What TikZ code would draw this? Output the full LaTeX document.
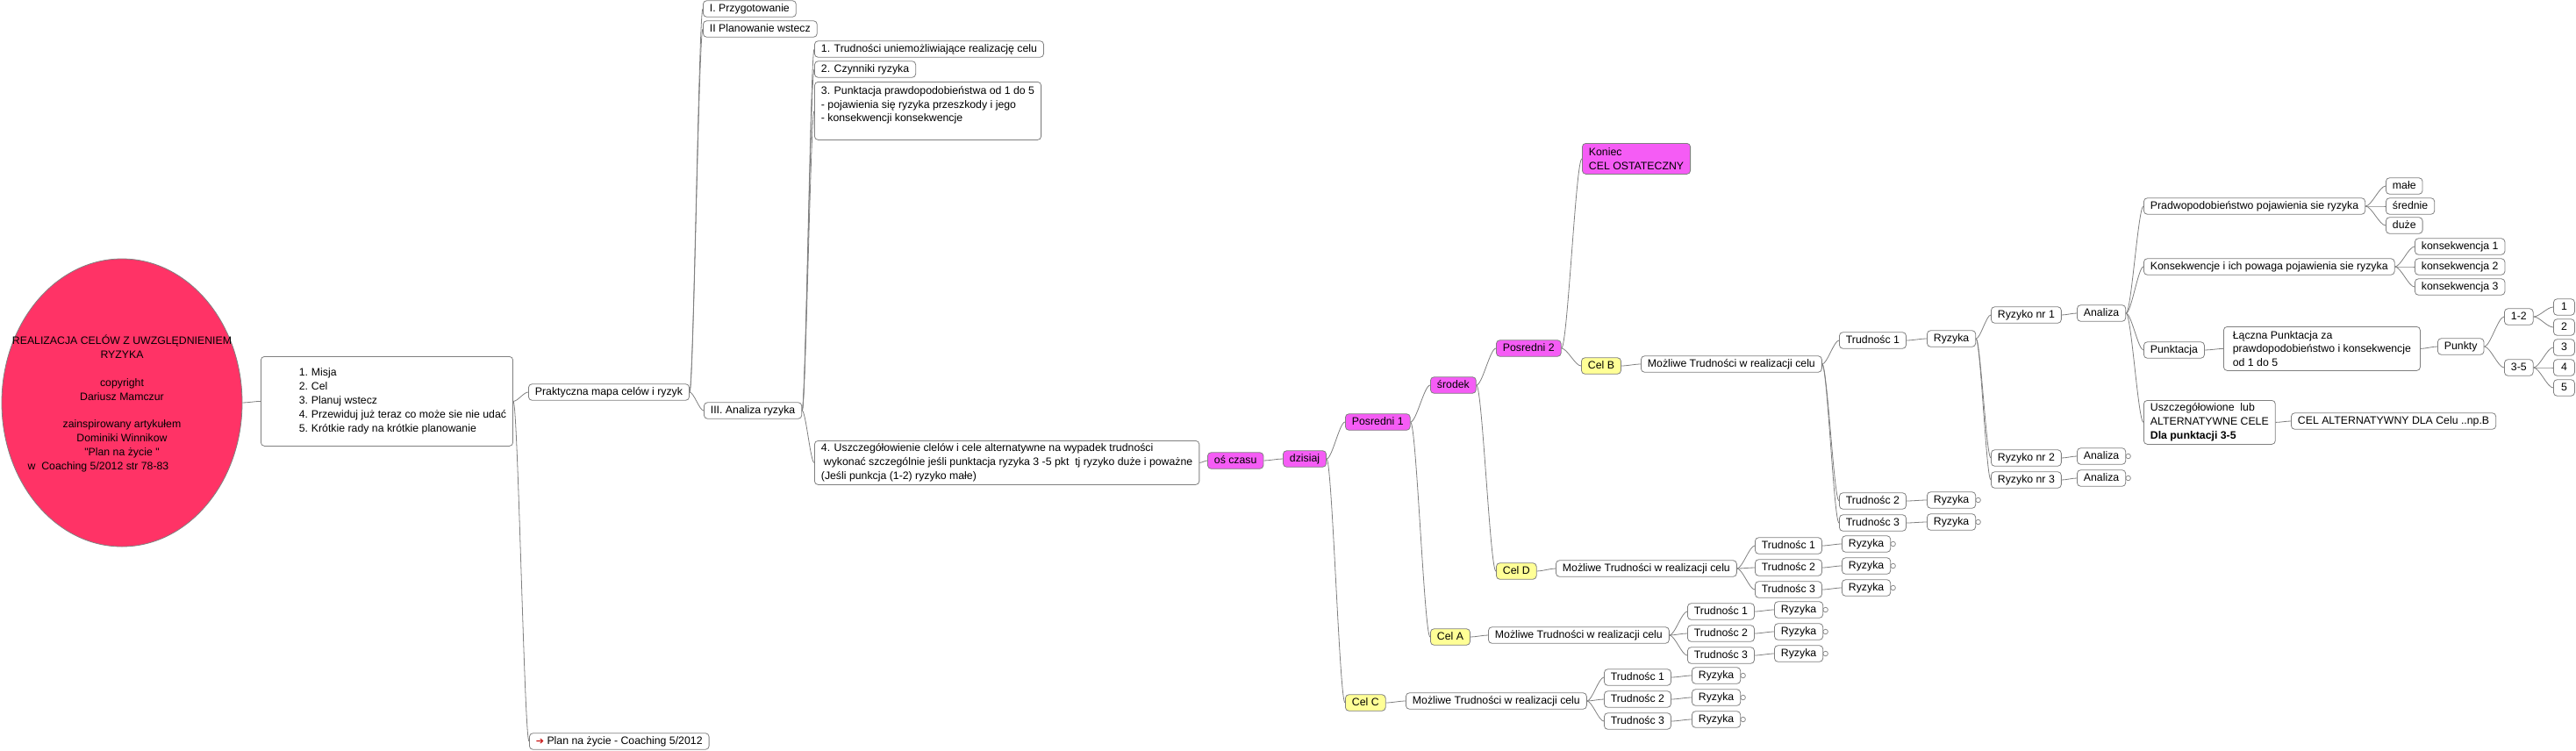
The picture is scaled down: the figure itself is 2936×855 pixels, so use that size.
\documentclass[tikz,border=0pt]{standalone}
\usepackage{fontspec}
\setmainfont{Liberation Sans}
\newfontfamily\arrowfont{DejaVu Sans}
\usetikzlibrary{calc,shapes.geometric}

\definecolor{linegray}{RGB}{128,128,128}
\definecolor{pinkfill}{RGB}{245,92,245}
\definecolor{goalfill}{RGB}{255,255,150}
\definecolor{titlered}{RGB}{255,51,102}
\definecolor{arrowred}{RGB}{200,20,20}

\begin{document}
\begin{tikzpicture}[
       x=1pt, y=-1pt,
       font=\fontsize{12.3}{15.8}\selectfont,
       bubble/.style={
         draw=linegray,
         line width=0.8pt,
         rounded corners=4pt,
         fill=white,
         inner xsep=7.5pt,
         inner ysep=3.5pt,
         text height=9pt,
         text depth=2.5pt,
         anchor=west
       },
       blok/.style={
         draw=linegray,
         line width=0.8pt,
         rounded corners=4pt,
         fill=white,
         inner xsep=7.5pt,
         inner ysep=0pt,
         align=left,
         anchor=north west
       },
       krok/.style={bubble, fill=pinkfill},
       cel/.style={bubble, fill=goalfill},
       fold/.style={
         circle,
         draw=linegray,
         line width=0.7pt,
         fill=white,
         inner sep=0pt,
         minimum size=5.5pt
       },
       link/.style={
         draw=linegray,
         line width=0.8pt,
         to path={let \p1=(\tikztostart), \p2=(\tikztotarget),
           \n1={0.3*(\x2-\x1)} in
           .. controls (\x1+\n1,\y1) and (\x2-\n1,\y2) .. (\p2)}
       }
     ]

       \path [fill=white, use as bounding box] (0,0) rectangle (2936,855);

       % korzen
       \node (tytul) at (139,459) [shape=ellipse, draw=linegray, line width=0.8pt, fill=titlered,
         minimum width=274, minimum height=328, inner sep=0pt]{};
       \node (tytultekst) at (139,460) [align=center]
         {REALIZACJA CELÓW Z UWZGLĘDNIENIEM\\
          RYZYKA\hspace*{20pt}\\[15.8pt]
          copyright\hspace*{40pt}\\
          Dariusz Mamczur\hspace*{44pt}\\[15.8pt]
          zainspirowany artykułem\hspace*{40pt}\\
          Dominiki Winnikow\hspace*{56pt}\\
          \textquotedbl Plan na życie \textquotedbl\hspace*{68pt}\\
          w\ \ Coaching 5/2012 str 78-83\hspace*{54pt}};

       \node (lista) at (297,406) [blok, minimum width=285, minimum height=102]
         {\hspace*{36pt}\makebox[14pt][l]{1.}Misja\\
          \hspace*{36pt}\makebox[14pt][l]{2.}Cel\\
          \hspace*{36pt}\makebox[14pt][l]{3.}Planuj wstecz\\
          \hspace*{36pt}\makebox[14pt][l]{4.}Przewiduj już teraz co może sie nie udać\\
          \hspace*{36pt}\makebox[14pt][l]{5.}Krótkie rady na krótkie planowanie};

       \node (prakt) at (602,447) [bubble]{Praktyczna mapa celów i ryzyk};
       \node (plan) at (603,845) [bubble]{{\arrowfont\fontsize{11}{11}\selectfont\color{arrowred}➔}\ Plan na życie - Coaching 5/2012};

       \node (przyg) at (801,10) [bubble]{I. Przygotowanie};
       \node (planw) at (801,33) [bubble]{II Planowanie wstecz};
       \node (analiza) at (802,468) [bubble]{III. Analiza ryzyka};

       \node (trud) at (928,56) [bubble]{1. Trudności uniemożliwiające realizację celu};
       \node (czyn) at (928,79) [bubble]{2. Czynniki ryzyka};
       \node (punkt) at (928,93) [blok, minimum width=258, minimum height=66]
         {3. Punktacja prawdopodobieństwa od 1 do 5\\
          - pojawienia się ryzyka przeszkody i jego\\
          - konsekwencji konsekwencje\\
          \mbox{}};
       \node (uszcz) at (928,502) [blok, minimum width=427, minimum height=50]
         {4. Uszczegółowienie clelów i cele alternatywne na wypadek trudności\\
          \hspace*{3pt}wykonać szczególnie jeśli punktacja ryzyka 3 -5 pkt\ \ tj ryzyko duże i poważne\\
          (Jeśli punkcja (1-2) ryzyko małe)};

       % os czasu
       \node (os) at (1376,525) [krok]{oś czasu};
       \node (dzis) at (1462,523) [krok]{dzisiaj};
       \node (pos1) at (1533,481) [krok]{Posredni 1};
       \node (srod) at (1630,439) [krok]{środek};
       \node (pos2) at (1705,397) [krok]{Posredni 2};
       \node (koniec) at (1803,163) [blok, fill=pinkfill, minimum width=120, minimum height=35]
         {Koniec\\CEL OSTATECZNY};

       \node (celB) at (1802,417) [cel]{Cel B};
       \node (celD) at (1705,651) [cel]{Cel D};
       \node (celA) at (1630,726) [cel]{Cel A};
       \node (celC) at (1533,801) [cel]{Cel C};

       \node (mozB) at (1870,415) [bubble]{Możliwe Trudności w realizacji celu};
       \node (mozD) at (1773,648) [bubble]{Możliwe Trudności w realizacji celu};
       \node (mozA) at (1696,724) [bubble]{Możliwe Trudności w realizacji celu};
       \node (mozC) at (1602,799) [bubble]{Możliwe Trudności w realizacji celu};

       \node (trB1) at (2096,388) [bubble]{Trudnośc 1};
       \node (trB2) at (2096,571) [bubble]{Trudnośc 2};
       \node (trB3) at (2096,596) [bubble]{Trudnośc 3};
       \node (rzB1) at (2196,386) [bubble]{Ryzyka};
       \node (rzB2) at (2196,570) [bubble]{Ryzyka};
       \node (rzB3) at (2196,595) [bubble]{Ryzyka};

       \node (trD1) at (2000,622) [bubble]{Trudnośc 1};
       \node (trD2) at (2000,647) [bubble]{Trudnośc 2};
       \node (trD3) at (2000,672) [bubble]{Trudnośc 3};
       \node (rzD1) at (2099,620) [bubble]{Ryzyka};
       \node (rzD2) at (2099,645) [bubble]{Ryzyka};
       \node (rzD3) at (2099,670) [bubble]{Ryzyka};

       \node (trA1) at (1923,697) [bubble]{Trudnośc 1};
       \node (trA2) at (1923,722) [bubble]{Trudnośc 2};
       \node (trA3) at (1923,747) [bubble]{Trudnośc 3};
       \node (rzA1) at (2022,695) [bubble]{Ryzyka};
       \node (rzA2) at (2022,720) [bubble]{Ryzyka};
       \node (rzA3) at (2022,745) [bubble]{Ryzyka};

       \node (trC1) at (1828,772) [bubble]{Trudnośc 1};
       \node (trC2) at (1828,797) [bubble]{Trudnośc 2};
       \node (trC3) at (1828,822) [bubble]{Trudnośc 3};
       \node (rzC1) at (1928,770) [bubble]{Ryzyka};
       \node (rzC2) at (1928,795) [bubble]{Ryzyka};
       \node (rzC3) at (1928,820) [bubble]{Ryzyka};

       % ryzyko nr 1
       \node (ry1) at (2269,359) [bubble]{Ryzyko nr 1};
       \node (ry2) at (2269,522) [bubble]{Ryzyko nr 2};
       \node (ry3) at (2269,547) [bubble]{Ryzyko nr 3};
       \node (an1) at (2367,357) [bubble]{Analiza};
       \node (an2) at (2367,520) [bubble]{Analiza};
       \node (an3) at (2367,545) [bubble]{Analiza};

       \node (prawd) at (2443,235) [bubble]{Pradwopodobieństwo pojawienia sie ryzyka};
       \node (male) at (2719,212) [bubble]{małe};
       \node (sred) at (2719,235) [bubble]{średnie};
       \node (duze) at (2719,257) [bubble]{duże};

       \node (kons) at (2443,304) [bubble]{Konsekwencje i ich powaga pojawienia sie ryzyka};
       \node (k1) at (2752,281) [bubble]{konsekwencja 1};
       \node (k2) at (2752,304) [bubble]{konsekwencja 2};
       \node (k3) at (2752,327) [bubble]{konsekwencja 3};

       \node (pkt) at (2443,399) [bubble]{Punktacja};
       \node (lacz) at (2534,372) [blok, minimum width=224, minimum height=50]
         {Łączna Punktacja za\\prawdopodobieństwo i konsekwencje\\od 1 do 5};
       \node (punkty) at (2778,395) [bubble]{Punkty};
       \node (p12) at (2854,361) [bubble]{1-2};
       \node (p35) at (2854,419) [bubble]{3-5};
       \node (n1) at (2910,350) [bubble, inner xsep=0pt, minimum width=24]{1};
       \node (n2) at (2910,373) [bubble, inner xsep=0pt, minimum width=24]{2};
       \node (n3) at (2910,396) [bubble, inner xsep=0pt, minimum width=24]{3};
       \node (n4) at (2910,419) [bubble, inner xsep=0pt, minimum width=24]{4};
       \node (n5) at (2910,442) [bubble, inner xsep=0pt, minimum width=24]{5};

       \node (alt) at (2443,456) [blok, minimum width=147, minimum height=50]
         {Uszczegółowione\ \ lub\\ALTERNATYWNE CELE\\\textbf{Dla punktacji 3-5}};
       \node (celalt) at (2611,480) [bubble]{CEL ALTERNATYWNY DLA Celu ..np.B};

       % zwiniete galezie
       \node (fzB2) at ([xshift=2.5pt]rzB2.east) [fold]{};
       \node (fzB3) at ([xshift=2.5pt]rzB3.east) [fold]{};
       \node (fzD1) at ([xshift=2.5pt]rzD1.east) [fold]{};
       \node (fzD2) at ([xshift=2.5pt]rzD2.east) [fold]{};
       \node (fzD3) at ([xshift=2.5pt]rzD3.east) [fold]{};
       \node (fzA1) at ([xshift=2.5pt]rzA1.east) [fold]{};
       \node (fzA2) at ([xshift=2.5pt]rzA2.east) [fold]{};
       \node (fzA3) at ([xshift=2.5pt]rzA3.east) [fold]{};
       \node (fzC1) at ([xshift=2.5pt]rzC1.east) [fold]{};
       \node (fzC2) at ([xshift=2.5pt]rzC2.east) [fold]{};
       \node (fzC3) at ([xshift=2.5pt]rzC3.east) [fold]{};
       \node (fan2) at ([xshift=2.5pt]an2.east) [fold]{};
       \node (fan3) at ([xshift=2.5pt]an3.east) [fold]{};

       % polaczenia
       \draw [link] (tytul.east) to (lista.west);
       \draw [link] (lista.east) to (prakt.west);
       \draw [link] (lista.east) to (plan.west);

       \draw [link] (prakt.east) to (przyg.west);
       \draw [link] (prakt.east) to (planw.west);
       \draw [link] (prakt.east) to (analiza.west);

       \draw [link] (analiza.east) to (trud.west);
       \draw [link] (analiza.east) to (czyn.west);
       \draw [link] (analiza.east) to (punkt.west);
       \draw [link] (analiza.east) to (uszcz.west);

       \draw [link] (uszcz.east) to (os.west);
       \draw [link] (os.east) to (dzis.west);
       \draw [link] (dzis.east) to (pos1.west);
       \draw [link] (dzis.east) to (celC.west);
       \draw [link] (pos1.east) to (srod.west);
       \draw [link] (pos1.east) to (celA.west);
       \draw [link] (srod.east) to (pos2.west);
       \draw [link] (srod.east) to (celD.west);
       \draw [link] (pos2.east) to (koniec.west);
       \draw [link] (pos2.east) to (celB.west);

       \draw [link] (celB.east) to (mozB.west);
       \draw [link] (celD.east) to (mozD.west);
       \draw [link] (celA.east) to (mozA.west);
       \draw [link] (celC.east) to (mozC.west);

       \draw [link] (mozB.east) to (trB1.west);
       \draw [link] (mozB.east) to (trB2.west);
       \draw [link] (mozB.east) to (trB3.west);
       \draw [link] (trB1.east) to (rzB1.west);
       \draw [link] (trB2.east) to (rzB2.west);
       \draw [link] (trB3.east) to (rzB3.west);

       \draw [link] (mozD.east) to (trD1.west);
       \draw [link] (mozD.east) to (trD2.west);
       \draw [link] (mozD.east) to (trD3.west);
       \draw [link] (trD1.east) to (rzD1.west);
       \draw [link] (trD2.east) to (rzD2.west);
       \draw [link] (trD3.east) to (rzD3.west);

       \draw [link] (mozA.east) to (trA1.west);
       \draw [link] (mozA.east) to (trA2.west);
       \draw [link] (mozA.east) to (trA3.west);
       \draw [link] (trA1.east) to (rzA1.west);
       \draw [link] (trA2.east) to (rzA2.west);
       \draw [link] (trA3.east) to (rzA3.west);

       \draw [link] (mozC.east) to (trC1.west);
       \draw [link] (mozC.east) to (trC2.west);
       \draw [link] (mozC.east) to (trC3.west);
       \draw [link] (trC1.east) to (rzC1.west);
       \draw [link] (trC2.east) to (rzC2.west);
       \draw [link] (trC3.east) to (rzC3.west);

       \draw [link] (rzB1.east) to (ry1.west);
       \draw [link] (rzB1.east) to (ry2.west);
       \draw [link] (rzB1.east) to (ry3.west);
       \draw [link] (ry1.east) to (an1.west);
       \draw [link] (ry2.east) to (an2.west);
       \draw [link] (ry3.east) to (an3.west);

       \draw [link] (an1.east) to (prawd.west);
       \draw [link] (an1.east) to (kons.west);
       \draw [link] (an1.east) to (pkt.west);
       \draw [link] (an1.east) to (alt.west);

       \draw [link] (prawd.east) to (male.west);
       \draw [link] (prawd.east) to (sred.west);
       \draw [link] (prawd.east) to (duze.west);
       \draw [link] (kons.east) to (k1.west);
       \draw [link] (kons.east) to (k2.west);
       \draw [link] (kons.east) to (k3.west);

       \draw [link] (pkt.east) to (lacz.west);
       \draw [link] (lacz.east) to (punkty.west);
       \draw [link] (punkty.east) to (p12.west);
       \draw [link] (punkty.east) to (p35.west);
       \draw [link] (p12.east) to (n1.west);
       \draw [link] (p12.east) to (n2.west);
       \draw [link] (p35.east) to (n3.west);
       \draw [link] (p35.east) to (n4.west);
       \draw [link] (p35.east) to (n5.west);

       \draw [link] (alt.east) to (celalt.west);

\end{tikzpicture}
\end{document}
